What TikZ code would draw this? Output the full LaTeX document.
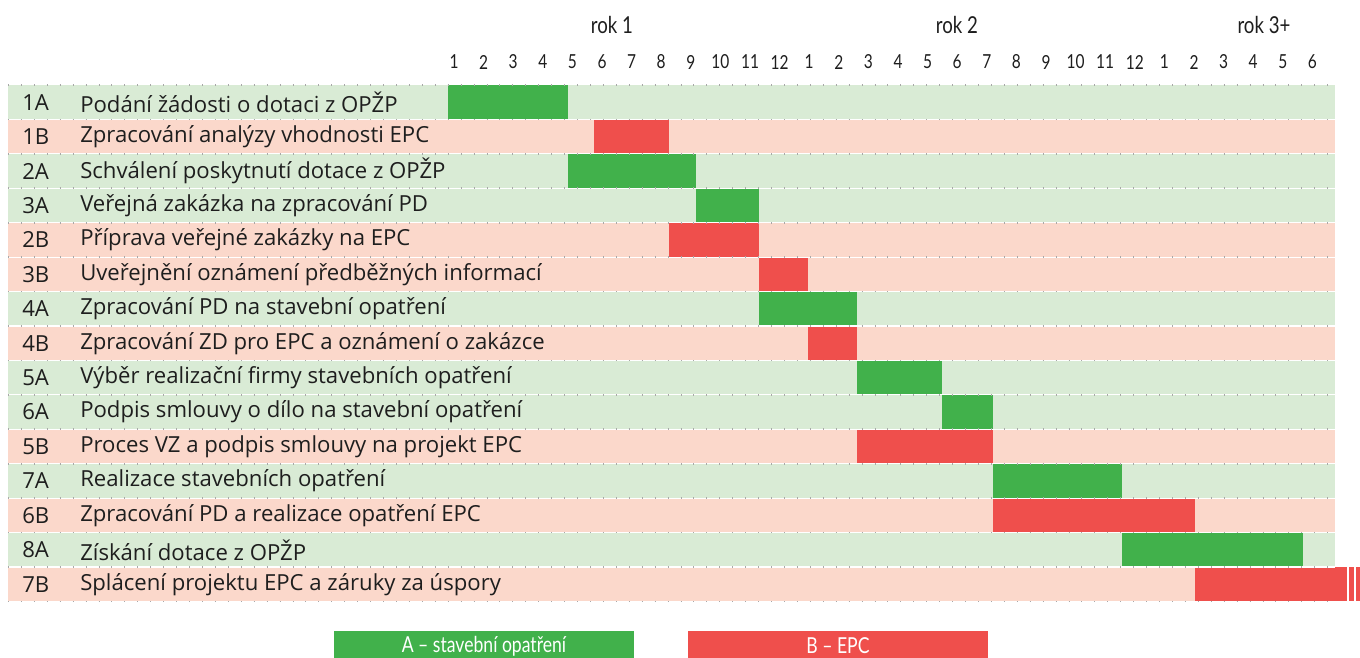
\documentclass[tikz,border=0pt]{standalone}
\usepackage{fontspec}
\setmainfont{Open Sans}
\newfontfamily\condfont[FakeStretch=0.8]{Lato}
\definecolor{bandA}{HTML}{D9EBD5}
\definecolor{bandB}{HTML}{FBD8CB}
\definecolor{barA}{HTML}{41B14B}
\definecolor{barB}{HTML}{EF4F4C}
\definecolor{txt}{HTML}{1E1E1E}
\definecolor{dotc}{HTML}{A8A8A8}
\begin{document}
\begin{tikzpicture}[x=0.75pt,y=-0.75pt,
  rowtxt/.style={anchor=west,inner sep=0pt,text=txt,font=\fontsize{16.6}{18}\selectfont},
  monthtxt/.style={inner sep=0pt,text=txt,font=\condfont\fontsize{14.5}{16}\selectfont},
  yeartxt/.style={inner sep=0pt,text=txt,font=\condfont\fontsize{17.5}{19}\selectfont},
  legbox/.style={inner sep=0pt,minimum width=225pt,minimum height=22pt,text=white,font=\condfont\fontsize{16.5}{18}\selectfont},
  sepline/.style={white,line width=0.9pt},
  dotline/.style={dotc,line width=1.3pt,dash pattern=on 0.7pt off 9pt}
]
\useasboundingbox (0,0) rectangle (1360,657);
\fill[white] (0,0) rectangle (1360,657);

% year labels
\node[yeartxt] (y1) at (612,25) {rok 1};
\node[yeartxt] (y2) at (957,25) {rok 2};
\node[yeartxt] (y3) at (1264,25) {rok 3+};

% month labels
\foreach \m [count=\k from 0] in {1,2,3,4,5,6,7,8,9,10,11,12,1,2,3,4,5,6,7,8,9,10,11,12,1,2,3,4,5,6}
  \node[monthtxt] (m\k) at ({454+\k*29.6},62) {\m};

% rows
\def\rh{34.43}
\foreach \lab/\txt/\t/\s/\e [count=\i from 0] in {
  1A/Podání žádosti o dotaci z OPŽP/A/448/568,
  1B/Zpracování analýzy vhodnosti EPC/B/594/669,
  2A/Schválení poskytnutí dotace z OPŽP/A/568/696,
  3A/Veřejná zakázka na zpracování PD/A/696/759,
  2B/Příprava veřejné zakázky na EPC/B/669/759,
  3B/Uveřejnění oznámení předběžných informací/B/759/808,
  4A/Zpracování PD na stavební opatření/A/759/857,
  4B/Zpracování ZD pro EPC a oznámení o zakázce/B/808/857,
  5A/Výběr realizační firmy stavebních opatření/A/857/942,
  6A/Podpis smlouvy o dílo na stavební opatření/A/942/993,
  5B/Proces VZ a podpis smlouvy na projekt EPC/B/857/993,
  7A/Realizace stavebních opatření/A/993/1122,
  6B/Zpracování PD a realizace opatření EPC/B/993/1195,
  8A/Získání dotace z OPŽP/A/1122/1303,
  7B/Splácení projektu EPC a záruky za úspory/B/1195/1347}
{
  \pgfmathsetmacro{\top}{85+\i*\rh}
  \pgfmathsetmacro{\bot}{85+(\i+1)*\rh}
  \pgfmathsetmacro{\mid}{85+(\i+0.5)*\rh}
  \fill[band\t] (8,\top) rectangle (1335,\bot);
  \fill[bar\t] (\s,\top) rectangle (\e,\bot);
  \node[rowtxt] (id\i) at (22,\mid) {\lab};
  \node[rowtxt] (tx\i) at (80,\mid) {\txt};
}
% continuation stripes on last bar
\fill[barB] (1348.5,{85+14*\rh}) rectangle (1353.5,{85+15*\rh});
\fill[barB] (1355.5,{85+14*\rh}) rectangle (1360,{85+15*\rh});

% separators
\foreach \i in {1,...,14}
  \draw[sepline] (8,{85+\i*\rh}) -- (1335,{85+\i*\rh});
\foreach \i in {0,...,15}
  \draw[dotline] (8,{85+\i*\rh}) -- (1335,{85+\i*\rh});

% legend
\node[legbox,fill=barA] (legA) at (484,646) {A – stavební opatření};
\node[legbox,fill=barB] (legB) at (838,646) {B – EPC};
\end{tikzpicture}
\end{document}
